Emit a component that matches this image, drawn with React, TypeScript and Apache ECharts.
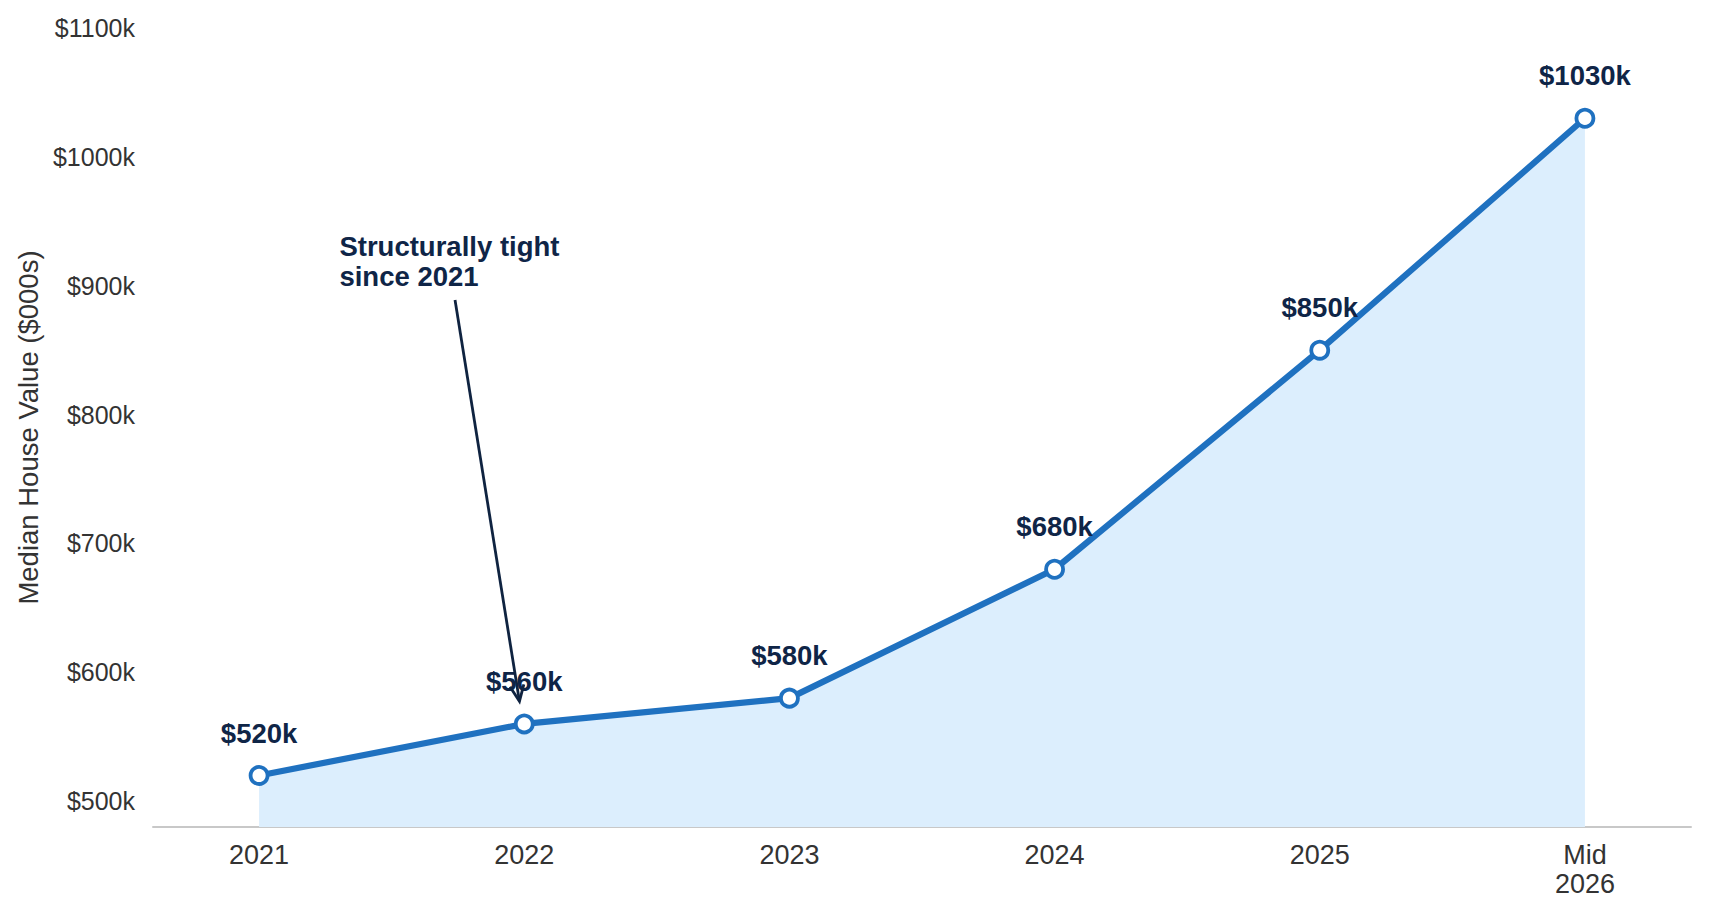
import React, { useEffect, useRef } from "react";
import * as echarts from "echarts";

const categories = ["2021", "2022", "2023", "2024", "2025", "Mid\n2026"];
const values = [520, 560, 580, 680, 850, 1030];
const yTicks = [500, 600, 700, 800, 900, 1000, 1100];
const xTicks = [0, 1, 2, 3, 4, 5];
const yAxisTitle = "Median House Value ($000s)";
const annotationText = "Structurally tight\nsince 2021";

// annotation anchors in data coordinates (x index, $000s)
const annotationTextAt = [0.303, 942];
const arrowFrom = [0.739, 889];
const arrowTo = [0.982, 577.5];

const FONT = '"Liberation Sans", Arial, Helvetica, sans-serif';
const BLUE = "#1f71c0";
const NAVY = "#0f2547";

export default function App() {
  const ref = useRef<HTMLDivElement>(null);

  useEffect(() => {
    const chart = echarts.init(ref.current!, null, { renderer: "svg" });
    chart.setOption({
      animation: false,
      backgroundColor: "#ffffff",
      textStyle: { fontFamily: FONT },
      grid: { left: 153, right: 19, top: 28, bottom: 91, containLabel: false },
      xAxis: {
        type: "value",
        min: -0.4,
        max: 5.4,
        splitLine: { show: false },
        axisTick: { show: false },
        axisLine: { show: true, lineStyle: { color: "#c8c8c8", width: 2 } },
        axisLabel: {
          customValues: xTicks,
          formatter: (v: number) => categories[Math.round(v)] ?? "",
          fontSize: 27,
          lineHeight: 29.5,
          color: "#333333",
          margin: 13,
          fontFamily: FONT,
        },
      },
      yAxis: {
        type: "value",
        min: 480,
        max: 1100,
        splitLine: { show: false },
        axisTick: { show: false },
        axisLine: { show: false },
        axisLabel: {
          customValues: yTicks,
          formatter: (v: number) => `$${v}k`,
          fontSize: 25,
          color: "#333333",
          margin: 18,
          fontFamily: FONT,
        },
        name: yAxisTitle,
        nameLocation: "middle",
        nameRotate: 90,
        nameGap: 110,
        nameTextStyle: { fontSize: 27.5, color: "#333333", fontFamily: FONT },
      },
      series: [
        {
          type: "line",
          data: values.map((v, i) => [i, v]),
          lineStyle: { width: 6.2, color: BLUE },
          symbol: "circle",
          symbolSize: 17,
          itemStyle: { color: "#ffffff", borderColor: BLUE, borderWidth: 3.8 },
          areaStyle: { color: "#dceefd", opacity: 1, origin: "start" },
          label: {
            show: true,
            position: "top",
            distance: 18,
            formatter: (p: any) => `$${p.value[1]}k`,
            fontSize: 27.5,
            fontWeight: "bold",
            color: NAVY,
            fontFamily: FONT,
          },
          z: 3,
        },
      ],
    });

    const px = (c: number[]) => chart.convertToPixel({ gridIndex: 0 }, c) as number[];
    const a = px(arrowFrom);
    const b = px(arrowTo);
    const t = px(annotationTextAt);
    const dx = b[0] - a[0];
    const dy = b[1] - a[1];
    const len = Math.hypot(dx, dy);
    const ux = dx / len;
    const uy = dy / len;
    const hl = 16;
    const hw = 7;
    const left = [b[0] - ux * hl - uy * hw, b[1] - uy * hl + ux * hw];
    const right = [b[0] - ux * hl + uy * hw, b[1] - uy * hl - ux * hw];

    chart.setOption({
      graphic: [
        {
          type: "line",
          z: 100,
          shape: { x1: a[0], y1: a[1], x2: b[0], y2: b[1] },
          style: { stroke: "#0f2340", lineWidth: 2.8 },
        },
        {
          type: "polyline",
          z: 100,
          shape: { points: [left, b, right] },
          style: { stroke: "#0f2340", lineWidth: 2.8, fill: "none" },
        },
        {
          type: "text",
          z: 100,
          x: t[0],
          y: t[1],
          style: {
            text: annotationText,
            fill: NAVY,
            font: `bold 27.5px ${FONT}`,
            lineHeight: 30,
            align: "left",
            verticalAlign: "top",
            textAlign: "left",
            textVerticalAlign: "top",
          },
        },
      ],
    });

    return () => chart.dispose();
  }, []);

  return (
    <div
      ref={ref}
      style={{ position: "fixed", left: 0, top: 0, width: 1710, height: 918 }}
    />
  );
}
